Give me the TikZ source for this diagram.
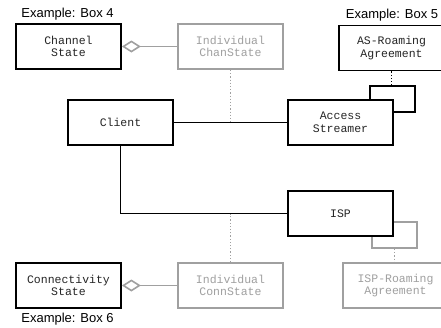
\documentclass[tikz,border=0pt]{standalone}
\usepackage{fontspec}
\setmainfont{Liberation Sans}
\newfontfamily\boxfont{Liberation Mono}
\usetikzlibrary{arrows.meta}
\definecolor{lgray}{HTML}{A0A0A0}
\begin{document}
\begin{tikzpicture}[x=1pt,y=-1pt,
  box/.style={draw=black, line width=1.8pt, fill=white, minimum width=105pt, minimum height=45pt,
    inner sep=0pt, align=center, font=\boxfont\fontsize{11.5}{12.5}\selectfont, text=black!85},
  gbox/.style={box, draw=lgray, text=lgray},
  loopbox/.style={draw=black, line width=1.8pt, minimum width=45pt, minimum height=26pt, inner sep=0pt},
  gloopbox/.style={loopbox, draw=lgray},
  conn/.style={draw=black, line width=1.6pt},
  dots/.style={draw=lgray, line width=1.2pt, dotted},
  bdots/.style={draw=black, line width=1.2pt, dotted},
  agg/.style={draw=lgray, line width=1.6pt, {Diamond[open,length=19pt,width=12pt,line width=1.6pt]}-},
  lab/.style={font=\fontsize{13}{15}\selectfont, inner sep=0pt}
]
\useasboundingbox (0,0) rectangle (441,327);
\clip (0,0) rectangle (441,327);
\fill[white] (0,0) rectangle (441,327);

% loop boxes (behind)
\node[loopbox] (asloop) at (392.5,99) {};
\node[gloopbox] (isploop) at (394.5,235) {};

% boxes
\node[box] (chan) at (68.5,46.5) {Channel\\State};
\node[gbox] (ichan) at (230.5,46.5) {Individual\\ChanState};
\node[box] (client) at (120.5,122.5) {Client};
\node[box] (as) at (340.5,122.5) {Access\\Streamer};
\node[box] (asroam) at (391.5,48) {AS-Roaming\\Agreement};
\node[box] (isp) at (340.5,213.5) {ISP};
\node[gbox] (isproam) at (395.5,285.5) {ISP-Roaming\\Agreement};
\node[gbox] (iconn) at (230.5,285.5) {Individual\\ConnState};
\node[box] (connst) at (68.5,285.5) {Connectivity\\State};

% labels
\node[lab] (l4) at (67.5,14) {Example: Box 4};
\node[lab] (l5) at (392,15) {Example: Box 5};
\node[lab] (l6) at (67.5,319) {Example: Box 6};

% connectors
\draw[agg] (chan.east) -- (ichan.west);
\draw[agg] (connst.east) -- (iconn.west);
\draw[conn] (client.east) -- (as.west);
\draw[conn] (client.south) |- (isp.west);
\draw[dots] (ichan.south) -- (ichan.south |- client.east);
\draw[dots] (iconn.north) -- (iconn.north |- isp.west);
\draw[bdots] (asroam.south) -- (asroam.south |- asloop.north);
\draw[dots] (isploop.south) -- (isploop.south |- isproam.north);
\end{tikzpicture}
\end{document}
